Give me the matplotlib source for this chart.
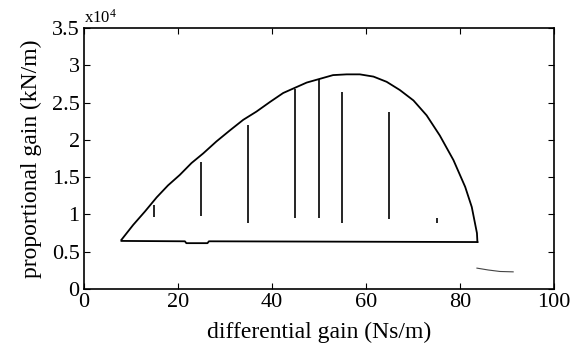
import numpy as np
import matplotlib
matplotlib.use('Agg')
import matplotlib.pyplot as plt

plt.rcParams['font.family'] = 'Liberation Serif'
plt.rcParams['mathtext.default'] = 'regular'

# stability region boundary (upper arc), Kd in Ns/m, Kp in N/m
upper_x = [8.0, 10.5, 13.0, 15.5, 17.9, 20.4, 22.9, 25.4, 28.2, 31.1, 33.9, 36.7,
           39.6, 42.4, 44.9, 47.4, 50.2, 53.0, 55.9, 58.7, 61.6, 64.4, 67.2, 70.1,
           72.9, 75.7, 78.6, 81.1, 82.5, 83.6, 83.7]
upper_y = [6600, 8600, 10400, 12300, 13900, 15300, 16900, 18200, 19800, 21300, 22700, 23800,
           25100, 26300, 27000, 27700, 28200, 28700, 28800, 28800, 28500, 27800, 26700, 25300,
           23300, 20600, 17300, 13700, 11000, 7500, 6300]

# lower boundary with small dip
lower_x = [83.7, 26.6, 26.3, 21.8, 21.5, 8.0]
lower_y = [6300, 6400, 6150, 6150, 6400, 6450]

# vertical lines inside region
vline_x = [15, 25, 35, 45, 50, 55, 65, 75]
vline_top = [11300, 17100, 22000, 26900, 28200, 26500, 23800, 9500]
vline_bot = [9700, 9800, 8800, 9500, 9500, 8800, 9400, 8800]

# stray small curve bottom right
tail_x = [83.6, 86.0, 88.5, 91.3]
tail_y = [2800, 2550, 2350, 2300]

fig = plt.figure(figsize=(5.82, 3.52), dpi=100)
ax = fig.add_axes([0.144, 0.179, 0.808, 0.741])

ax.plot(upper_x, upper_y, color='black', lw=1.3)
ax.plot(lower_x, lower_y, color='black', lw=1.3)
ax.vlines(vline_x, vline_bot, vline_top, color='black', lw=1.2)
ax.plot(tail_x, tail_y, color='#444444', lw=0.8)

ax.set_xlim(0, 100)
ax.set_ylim(0, 35000)
ax.set_xticks([0, 20, 40, 60, 80, 100])
ax.set_yticks(np.arange(0, 35001, 5000))
ax.set_yticklabels(['0', '0.5', '1', '1.5', '2', '2.5', '3', '3.5'])
ax.tick_params(direction='in', top=True, right=True, length=4, labelsize=16, pad=3)
for s in ax.spines.values():
    s.set_linewidth(1.2)

ax.text(0.0, 1.005, r'x10$^{4}$', transform=ax.transAxes, fontsize=12, va='bottom', ha='left')

ax.set_xlabel('differential gain (Ns/m)', fontsize=17, labelpad=7)
ax.set_ylabel('proportional gain (kN/m)', fontsize=17, labelpad=7)

fig.savefig('out.png', dpi=100)
